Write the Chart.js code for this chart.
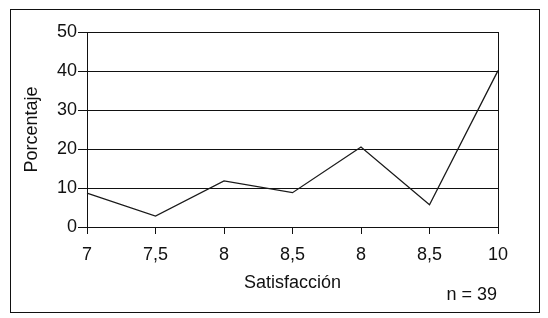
<!DOCTYPE html>
<html>
<head>
<meta charset="utf-8">
<script src="https://cdn.jsdelivr.net/npm/chart.js@4"></script>
<style>
  body { margin: 0; background: #fff; }
  #wrap { position: relative; width: 548px; height: 318px; }
  #frame { position: absolute; left: 10px; top: 9px; width: 528px; height: 302px; border: 1px solid #111; pointer-events: none; }
  #note { position: absolute; left: 420px; width: 77px; top: 283px; text-align: right; font: 18px "Liberation Sans", Arial, sans-serif; color: #111; line-height: 22px; }
</style>
</head>
<body>
<div id="wrap">
  <canvas id="chart" width="548" height="318"></canvas>
  <div id="frame"></div>
  <div id="note">n = 39</div>
</div>
<script>
// datos
const categorias = ['7', '7,5', '8', '8,5', '8', '8,5', '10'];
const porcentajes = [8.7, 2.8, 11.8, 8.8, 20.5, 5.7, 40.1];
const ticksY = [0, 10, 20, 30, 40, 50];

Chart.defaults.font.family = '"Liberation Sans", Arial, sans-serif';
Chart.defaults.font.size = 18;
Chart.defaults.color = '#111';

const ctx = document.getElementById('chart').getContext('2d');
new Chart(ctx, {
    type: 'line',
    data: {
        labels: categorias,
        datasets: [{
            data: porcentajes,
            borderColor: '#1a1a1a',
            borderWidth: 1.3,
            pointRadius: 0,
            tension: 0,
            fill: false
        }]
    },
    options: {
        responsive: false,
        animation: false,
        devicePixelRatio: 1,
        layout: { padding: { top: 32, right: 50, bottom: 0, left: 12 } },
        plugins: {
            legend: { display: false },
            tooltip: { enabled: false }
        },
        scales: {
            x: {
                offset: false,
                grid: {
                    color: c => (c.index === categorias.length - 1 ? '#111' : 'rgba(0,0,0,0)'),
                    tickColor: '#111',
                    tickLength: 7,
                    lineWidth: 1
                },
                border: { color: '#111' },
                ticks: { padding: 10, maxRotation: 0, autoSkip: false },
                title: { display: true, text: 'Satisfacción', padding: { top: 0, bottom: 24 } },
                afterFit: s => { s.height = 91; }
            },
            y: {
                min: 0,
                max: 50,
                afterBuildTicks: s => { s.ticks = ticksY.map(v => ({ value: v })); },
                grid: { color: '#111', tickLength: 9, lineWidth: 1 },
                border: { color: '#111' },
                ticks: { padding: 1 },
                title: { display: true, text: 'Porcentaje', padding: { top: 9, bottom: 0 } },
                afterFit: s => { s.width = 75; }
            }
        }
    }
});
</script>
</body>
</html>
